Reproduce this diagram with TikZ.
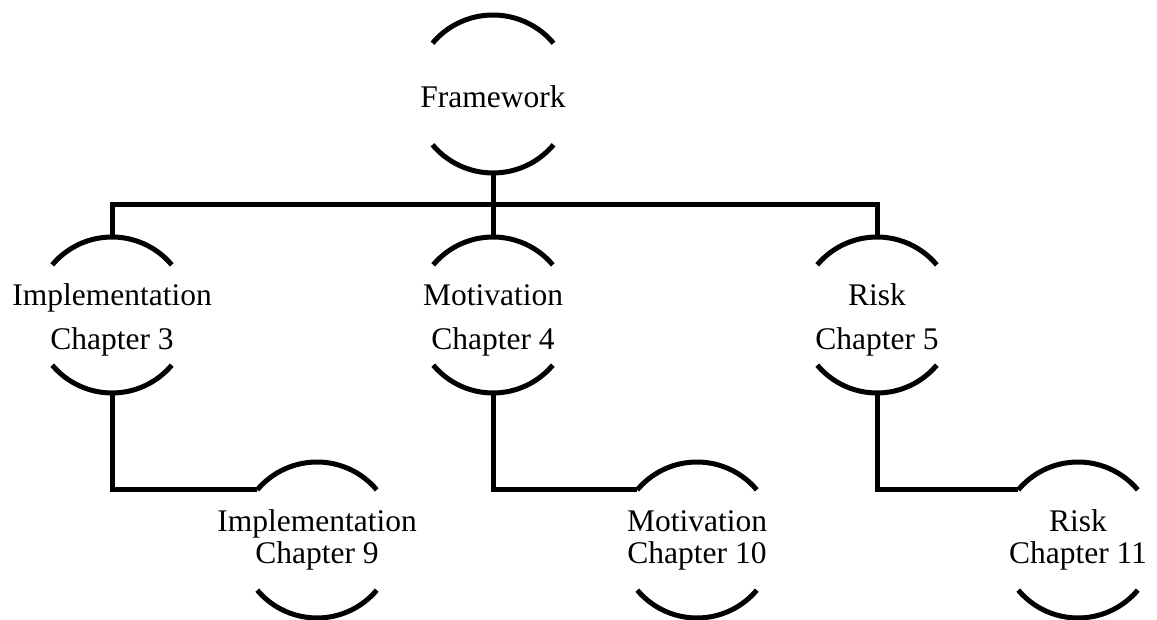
\documentclass[tikz,border=0pt]{standalone}
\usepackage{fontspec}
\setmainfont{Liberation Serif}
\begin{document}
\begin{tikzpicture}[x=1pt,y=1pt,
  line width=5pt,
  ring/.style={circle,draw=none,minimum size=156pt,inner sep=0pt,outer sep=0pt},
  bigring/.style={ring,minimum size=158pt},
  toptxt/.style={align=center,inner sep=0pt,font=\fontsize{31.5}{44}\selectfont},
  lowtxt/.style={align=center,inner sep=0pt,font=\fontsize{31.5}{32}\selectfont},
  conn/.style={line cap=butt,line join=miter}]
\useasboundingbox (0,0) rectangle (1157,620);

% top-and-bottom arcs of a ring node
\newcommand{\ringarcs}[2]{%
  \draw ([shift={(40:#2)}]#1.center) arc[start angle=40,end angle=140,radius=#2];
  \draw ([shift={(220:#2)}]#1.center) arc[start angle=220,end angle=320,radius=#2];}

% ring nodes
\node[bigring] (fw) at (493,526) {};
\node[ring] (imp3) at (112,305) {};
\node[ring] (mot4) at (493,305) {};
\node[ring] (risk5) at (877,305) {};
\node[ring] (imp9) at (317,80) {};
\node[ring] (mot10) at (697,80) {};
\node[ring] (risk11) at (1078,80) {};

% labels
\node[toptxt,yshift=-3pt] (fwt) at (fw) {Framework};
\node[toptxt,yshift=-5pt] (imp3t) at (imp3) {Implementation\\Chapter 3};
\node[toptxt,yshift=-5pt] (mot4t) at (mot4) {Motivation\\Chapter 4};
\node[toptxt,yshift=-5pt] (risk5t) at (risk5) {Risk\\Chapter 5};
\node[lowtxt] (imp9t) at (imp9) {Implementation\\Chapter 9};
\node[lowtxt] (mot10t) at (mot10) {Motivation\\Chapter 10};
\node[lowtxt] (risk11t) at (risk11) {Risk\\Chapter 11};

\ringarcs{fw}{79}
\ringarcs{imp3}{78}
\ringarcs{mot4}{78}
\ringarcs{risk5}{78}
\ringarcs{imp9}{78}
\ringarcs{mot10}{78}
\ringarcs{risk11}{78}

% connectors
\coordinate (bus) at (0,415);
\draw[conn] (imp3.north) -- (imp3.north |- bus) -- (risk5.north |- bus) -- (risk5.north);
\draw[conn] (fw.south) -- (mot4.north);
\draw[conn] (imp3.south) |- (imp9.140);
\draw[conn] (mot4.south) |- (mot10.140);
\draw[conn] (risk5.south) |- (risk11.140);
\end{tikzpicture}
\end{document}
